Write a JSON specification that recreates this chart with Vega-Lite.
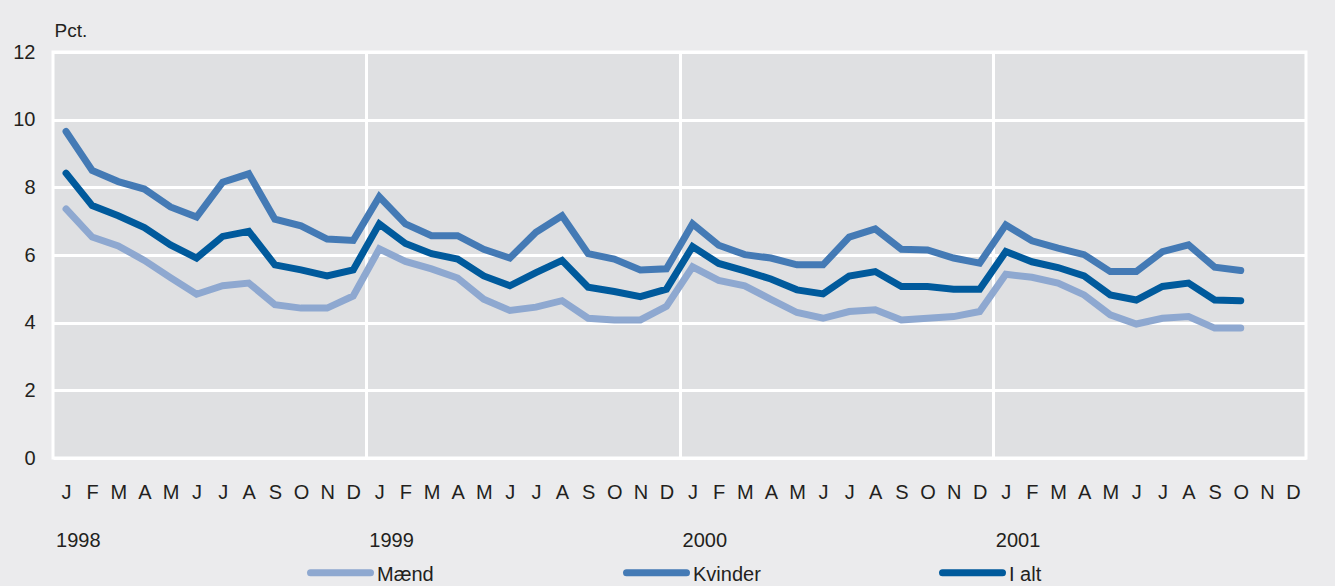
{
  "$schema": "https://vega.github.io/schema/vega-lite/v6.json",
  "autosize": {"type": "none"},
  "width": 1253,
  "height": 406,
  "padding": {"left": 53, "top": 52, "right": 29, "bottom": 128},
  "background": "#ebebed",
  "config": {
    "font": "Liberation Sans",
    "view": {"fill": "#dfe0e2", "stroke": "white", "strokeWidth": 3},
    "axis": {"labelFont": "Liberation Sans", "labelColor": "#231f20", "labelFontSize": 20, "titleFont": "Liberation Sans", "titleColor": "#231f20"}
  },
  "data": {
    "values": [
      {"t": 0, "Mænd": 7.36, "Kvinder": 9.65, "I alt": 8.42},
      {"t": 1, "Mænd": 6.53, "Kvinder": 8.50, "I alt": 7.46},
      {"t": 2, "Mænd": 6.27, "Kvinder": 8.17, "I alt": 7.16},
      {"t": 3, "Mænd": 5.84, "Kvinder": 7.95, "I alt": 6.81},
      {"t": 4, "Mænd": 5.33, "Kvinder": 7.42, "I alt": 6.30},
      {"t": 5, "Mænd": 4.84, "Kvinder": 7.12, "I alt": 5.91},
      {"t": 6, "Mænd": 5.09, "Kvinder": 8.15, "I alt": 6.55},
      {"t": 7, "Mænd": 5.17, "Kvinder": 8.40, "I alt": 6.70},
      {"t": 8, "Mænd": 4.53, "Kvinder": 7.06, "I alt": 5.71},
      {"t": 9, "Mænd": 4.43, "Kvinder": 6.86, "I alt": 5.56},
      {"t": 10, "Mænd": 4.43, "Kvinder": 6.47, "I alt": 5.38},
      {"t": 11, "Mænd": 4.79, "Kvinder": 6.43, "I alt": 5.56},
      {"t": 12, "Mænd": 6.18, "Kvinder": 7.72, "I alt": 6.92},
      {"t": 13, "Mænd": 5.81, "Kvinder": 6.92, "I alt": 6.34},
      {"t": 14, "Mænd": 5.59, "Kvinder": 6.57, "I alt": 6.04},
      {"t": 15, "Mænd": 5.32, "Kvinder": 6.57, "I alt": 5.88},
      {"t": 16, "Mænd": 4.69, "Kvinder": 6.17, "I alt": 5.38},
      {"t": 17, "Mænd": 4.36, "Kvinder": 5.91, "I alt": 5.09},
      {"t": 18, "Mænd": 4.46, "Kvinder": 6.67, "I alt": 5.48},
      {"t": 19, "Mænd": 4.65, "Kvinder": 7.16, "I alt": 5.84},
      {"t": 20, "Mænd": 4.13, "Kvinder": 6.04, "I alt": 5.05},
      {"t": 21, "Mænd": 4.08, "Kvinder": 5.88, "I alt": 4.92},
      {"t": 22, "Mænd": 4.08, "Kvinder": 5.56, "I alt": 4.77},
      {"t": 23, "Mænd": 4.48, "Kvinder": 5.59, "I alt": 4.99},
      {"t": 24, "Mænd": 5.65, "Kvinder": 6.92, "I alt": 6.25},
      {"t": 25, "Mænd": 5.25, "Kvinder": 6.29, "I alt": 5.75},
      {"t": 26, "Mænd": 5.09, "Kvinder": 6.01, "I alt": 5.53},
      {"t": 27, "Mænd": 4.69, "Kvinder": 5.91, "I alt": 5.29},
      {"t": 28, "Mænd": 4.30, "Kvinder": 5.71, "I alt": 4.97},
      {"t": 29, "Mænd": 4.13, "Kvinder": 5.71, "I alt": 4.85},
      {"t": 30, "Mænd": 4.33, "Kvinder": 6.53, "I alt": 5.38},
      {"t": 31, "Mænd": 4.38, "Kvinder": 6.77, "I alt": 5.51},
      {"t": 32, "Mænd": 4.08, "Kvinder": 6.17, "I alt": 5.07},
      {"t": 33, "Mænd": 4.13, "Kvinder": 6.15, "I alt": 5.07},
      {"t": 34, "Mænd": 4.18, "Kvinder": 5.91, "I alt": 4.99},
      {"t": 35, "Mænd": 4.33, "Kvinder": 5.76, "I alt": 4.99},
      {"t": 36, "Mænd": 5.43, "Kvinder": 6.89, "I alt": 6.10},
      {"t": 37, "Mænd": 5.34, "Kvinder": 6.42, "I alt": 5.80},
      {"t": 38, "Mænd": 5.17, "Kvinder": 6.20, "I alt": 5.63},
      {"t": 39, "Mænd": 4.82, "Kvinder": 6.01, "I alt": 5.38},
      {"t": 40, "Mænd": 4.23, "Kvinder": 5.51, "I alt": 4.82},
      {"t": 41, "Mænd": 3.96, "Kvinder": 5.51, "I alt": 4.67},
      {"t": 42, "Mænd": 4.13, "Kvinder": 6.10, "I alt": 5.07},
      {"t": 43, "Mænd": 4.18, "Kvinder": 6.30, "I alt": 5.17},
      {"t": 44, "Mænd": 3.84, "Kvinder": 5.64, "I alt": 4.67},
      {"t": 45, "Mænd": 3.84, "Kvinder": 5.54, "I alt": 4.65}
    ]
  },
  "transform": [{"fold": ["Mænd", "Kvinder", "I alt"], "as": ["serie", "v"]}],
  "resolve": {"axis": {"x": "independent"}},
  "layer": [
    {
      "mark": {"type": "rule", "opacity": 0},
      "encoding": {
        "x": {
          "field": "t", "type": "quantitative",
          "scale": {"domain": [-0.5, 47.5], "nice": false, "zero": false},
          "axis": {"orient": "bottom", "values": [11.5, 23.5, 35.5], "grid": true, "gridColor": "white", "gridWidth": 3, "gridOpacity": 1, "labels": false, "ticks": false, "domain": false, "title": null}
        }
      }
    },
    {
      "mark": {"type": "rule", "opacity": 0},
      "encoding": {
        "x": {
          "field": "t", "type": "quantitative",
          "axis": {"orient": "bottom", "values": [-0.4, 11.6, 23.6, 35.6], "labelExpr": "'' + (1998 + round((datum.value + 0.4) / 12))", "grid": false, "ticks": false, "tickSize": 0, "domain": false, "title": null, "labelPadding": 82, "labelBaseline": "middle", "labelAlign": "left", "labelFlush": false, "labelOverlap": false}
        }
      }
    },
    {
      "mark": {"type": "line", "strokeWidth": 7, "strokeCap": "round", "strokeJoin": "miter"},
      "encoding": {
        "x": {
          "field": "t", "type": "quantitative",
          "axis": {"orient": "bottom", "values": [0,1,2,3,4,5,6,7,8,9,10,11,12,13,14,15,16,17,18,19,20,21,22,23,24,25,26,27,28,29,30,31,32,33,34,35,36,37,38,39,40,41,42,43,44,45,46,47], "labelExpr": "['J','F','M','A','M','J','J','A','S','O','N','D'][datum.value % 12]", "grid": false, "ticks": false, "tickSize": 0, "domain": false, "title": null, "labelPadding": 34, "labelBaseline": "middle", "labelFlush": false, "labelOverlap": false}
        },
        "y": {
          "field": "v", "type": "quantitative",
          "scale": {"domain": [0, 12], "nice": false},
          "axis": {"values": [0, 2, 4, 6, 8, 10, 12], "grid": true, "gridColor": "white", "gridWidth": 3, "gridOpacity": 1, "ticks": false, "tickSize": 0, "domain": false, "labelPadding": 18, "labelBaseline": "middle",
            "title": "Pct.", "titleAngle": 0, "titleAlign": "left", "titleBaseline": "middle", "titleX": 1, "titleY": -22, "titleFontWeight": "normal", "titleFontSize": 19}
        },
        "color": {
          "field": "serie", "type": "nominal",
          "scale": {"domain": ["Mænd", "Kvinder", "I alt"], "range": ["#8ea8d0", "#447ab5", "#005a9c"]},
          "legend": {
            "title": null, "orient": "none", "legendX": 254, "legendY": 487, "direction": "horizontal", "columns": 3, "gridAlign": "all",
            "symbolType": "stroke", "symbolSize": 3600, "symbolStrokeWidth": 7, "labelFontSize": 20, "labelFont": "Liberation Sans", "labelColor": "#231f20",
            "labelOffset": 3, "columnPadding": 167, "padding": 0,
            "encode": {"labels": {"update": {"dy": {"value": 2}}}, "symbols": {"update": {"strokeCap": {"value": "round"}}}}
          }
        }
      }
    }
  ]
}
